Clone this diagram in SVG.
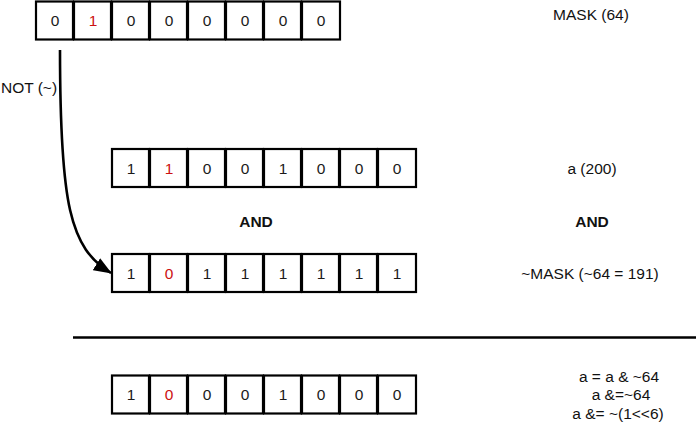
<svg xmlns="http://www.w3.org/2000/svg" width="696" height="425" viewBox="0 0 696 425">
<style>
.cell{fill:#fff;stroke:#000;stroke-width:2.2}
.d{font-family:"Liberation Sans",Arial,sans-serif;font-size:15.5px;fill:#1a1a1a;text-anchor:middle}
.r{fill:#cc1111}
.lbl{font-family:"Liberation Sans",Arial,sans-serif;font-size:15.5px;fill:#111;text-anchor:middle}
.b{font-weight:bold}
.conn{fill:none;stroke:#000;stroke-width:2.6}
</style>
<defs>
<marker id="ah" markerWidth="18" markerHeight="14" refX="17" refY="7" orient="auto" markerUnits="userSpaceOnUse">
<path d="M0,0 L18,7 L0,14 Z" fill="#000"/>
</marker>
<g id="cells8">
<rect class="cell" x="0" y="0" width="37" height="38"/>
<rect class="cell" x="38" y="0" width="37" height="38"/>
<rect class="cell" x="76" y="0" width="37" height="38"/>
<rect class="cell" x="114" y="0" width="37" height="38"/>
<rect class="cell" x="152" y="0" width="37" height="38"/>
<rect class="cell" x="190" y="0" width="37" height="38"/>
<rect class="cell" x="228" y="0" width="37" height="38"/>
<rect class="cell" x="266" y="0" width="38" height="38"/>
</g>
</defs>

<g id="mask">
<use href="#cells8" x="36" y="1.5"/>
<g class="d">
<text x="55" y="26">0</text><text x="93" y="26" class="r">1</text><text x="131" y="26">0</text><text x="169" y="26">0</text><text x="207" y="26">0</text><text x="245" y="26">0</text><text x="283" y="26">0</text><text x="321" y="26">0</text>
</g>
</g>

<g id="a">
<use href="#cells8" x="112" y="149"/>
<g class="d">
<text x="131" y="174">1</text><text x="169" y="174" class="r">1</text><text x="207" y="174">0</text><text x="245" y="174">0</text><text x="283" y="174">1</text><text x="321" y="174">0</text><text x="359" y="174">0</text><text x="397" y="174">0</text>
</g>
</g>

<g id="notmask">
<use href="#cells8" x="112" y="254"/>
<g class="d">
<text x="131" y="279">1</text><text x="169" y="279" class="r">0</text><text x="207" y="279">1</text><text x="245" y="279">1</text><text x="283" y="279">1</text><text x="321" y="279">1</text><text x="359" y="279">1</text><text x="397" y="279">1</text>
</g>
</g>

<g id="result">
<use href="#cells8" x="112" y="375.5"/>
<g class="d">
<text x="131" y="400">1</text><text x="169" y="400" class="r">0</text><text x="207" y="400">0</text><text x="245" y="400">0</text><text x="283" y="400">1</text><text x="321" y="400">0</text><text x="359" y="400">0</text><text x="397" y="400">0</text>
</g>
</g>

<g id="labels" class="lbl">
<text x="591" y="20">MASK (64)</text>
<text x="592" y="174">a (200)</text>
<text x="592" y="227" class="b">AND</text>
<text x="256" y="227" class="b">AND</text>
<text x="590" y="279">~MASK (~64 = 191)</text>
<text x="619" y="382">a = a &amp; ~64</text>
<text x="621" y="400">a &amp;=~64</text>
<text x="618" y="419">a &amp;= ~(1&lt;&lt;6)</text>
<text x="29" y="93">NOT (~)</text>
</g>

<g id="connectors">
<path class="conn" d="M60,50 C60,205 70,248 111,273" marker-end="url(#ah)"/>
</g>

<line x1="73" y1="337.5" x2="696" y2="337.5" stroke="#000" stroke-width="2.6"/>
</svg>
